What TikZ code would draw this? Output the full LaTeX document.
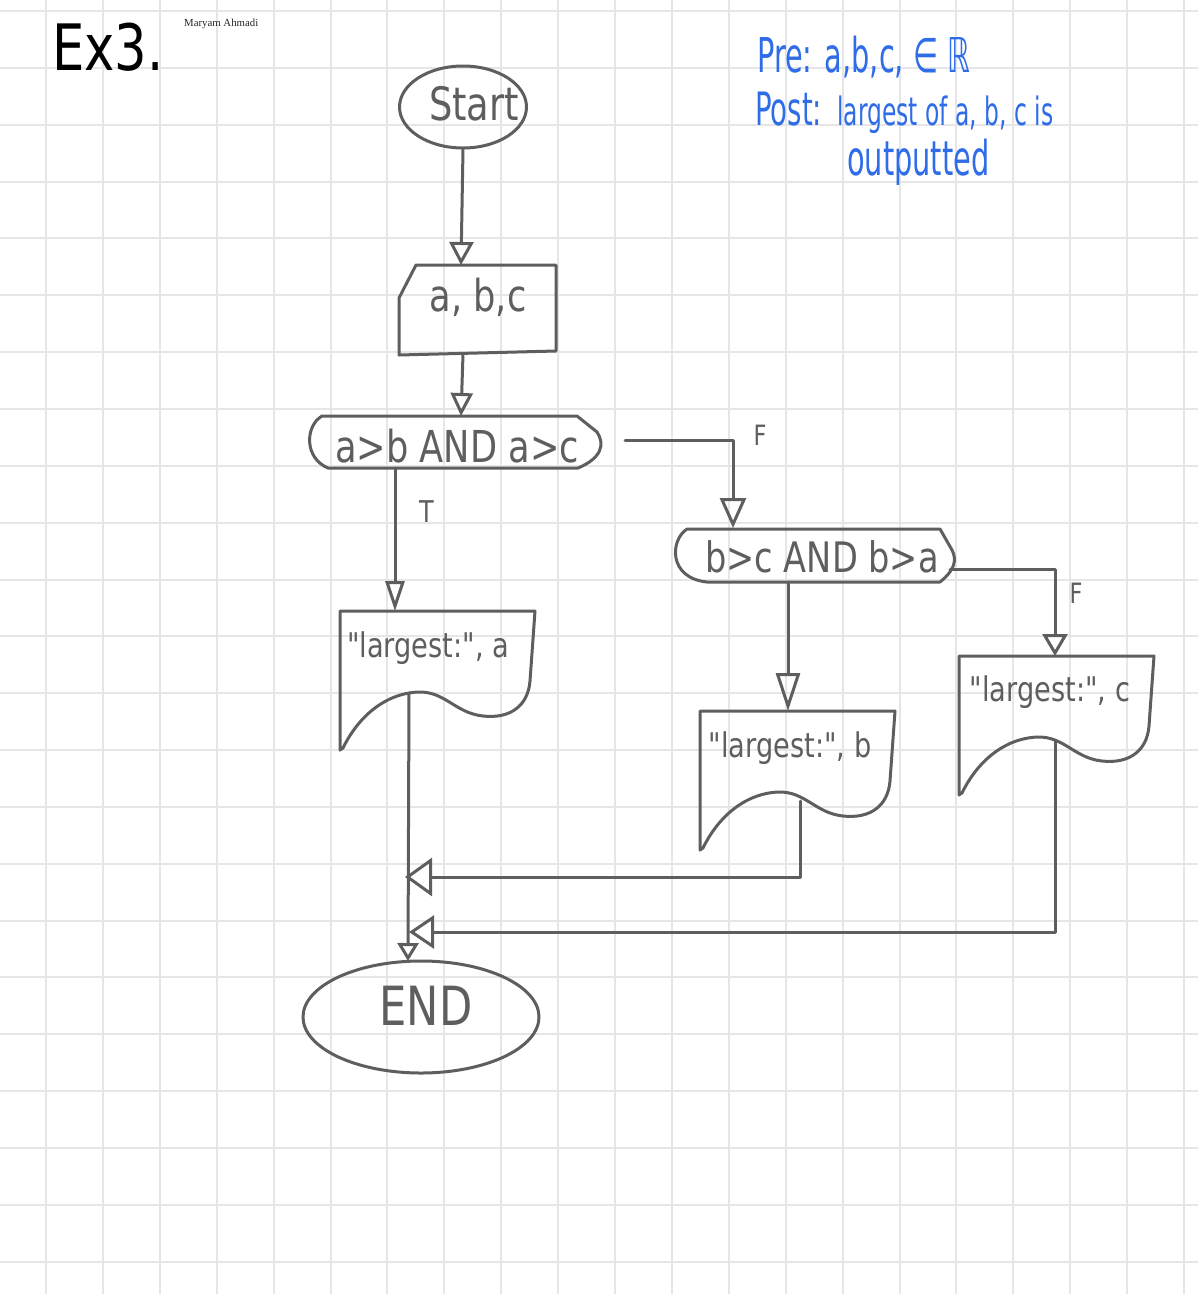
\documentclass[tikz,border=0pt]{standalone}
\usepackage{fontspec}
\newfontfamily\handfont[FakeStretch=0.8]{DejaVu Sans}
\newfontfamily\notefont[FakeStretch=0.6]{DejaVu Sans}
\newfontfamily\signfont{Liberation Serif}
\usetikzlibrary{arrows.meta,shapes.geometric}
\definecolor{ink}{HTML}{5E5E5E}
\definecolor{gridgray}{HTML}{E6E6E6}
\definecolor{penblue}{HTML}{2F6CE8}

\tikzset{
  gridline/.style={gridgray, line width=2pt},
  outline/.style={ink, line width=3pt, line join=round, line cap=round},
  headsz/.style 2 args={-{Triangle[open, length=#1, width=#2]}},
  flow/.style={outline, headsz={24pt}{24pt}},
  txt/.style={text=ink, inner sep=0pt, font=\handfont\fontsize{44}{48}\selectfont},
  outtxt/.style={txt, font=\handfont\fontsize{34}{38}\selectfont},
  note/.style={text=penblue, inner sep=0pt, anchor=base west},
}

% document (output) symbol with a wavy lower edge, top-left corner at #1
\newcommand\docsymbol[1]{%
  \draw[outline, shift={#1}] (0,0) -- (195,0) -- (190,70)
    .. controls (188,95) and (170,108) .. (143,105)
    .. controls (115,102) and (105,80) .. (78,81)
    .. controls (40,83) and (15,112) .. (3,137)
    -- (0,139) -- cycle;}

\begin{document}
\begin{tikzpicture}[x=1pt, y=-1pt]
  \useasboundingbox (0,0) rectangle (1198,1294);
  \fill[white] (0,0) rectangle (1198,1294);

  % squared paper
  \foreach \i in {0,...,20}
    \draw[gridline] ({46+56.9*\i},0) -- ({46+56.9*\i},1294);
  \foreach \j in {0,...,22}
    \draw[gridline] (0,{11+56.85*\j}) -- (1198,{11+56.85*\j});

  % heading and author
  \node[anchor=base west, inner sep=0pt, font=\handfont\fontsize{64}{70}\selectfont] (title) at (52,70) {Ex3.};
  \node[anchor=base west, inner sep=0pt, text=black!85, font=\signfont\fontsize{10.8}{12}\selectfont] (author) at (184,26) {Maryam Ahmadi};

  % pre- and postconditions
  \node[note, font=\notefont\fontsize{48}{52}\selectfont] (pre) at (757,72) {Pre: a,b,c, ∈ ℝ};
  \node[note, font=\notefont\fontsize{46}{50}\selectfont] (post) at (755,125) {Post:};
  \node[note, font=\notefont\fontsize{39}{44}\selectfont] (postrest) at (837,125) {largest of a, b, c is};
  \node[note, font=\notefont\fontsize{48}{52}\selectfont] (postend) at (847,175) {outputted};

  % start
  \node[ellipse, draw, outline, minimum width=127pt, minimum height=82pt, inner sep=0pt] (start) at (463,107) {};
  \node[txt, font=\handfont\fontsize{46}{50}\selectfont] (starttxt) at (474,104) {Start};

  % input a, b, c
  \draw[outline] (399,355) -- (399,298) -- (416,265) -- (556,265) -- (556,351) -- cycle;
  \node[txt] (inptxt) at (478,297) {a, b,c};
  \coordinate (inpTop) at (461,265);
  \coordinate (inpBot) at (463,354);

  % first decision
  \draw[outline] (322,416) -- (577,416) -- (597,432)
    .. controls (605,444) and (602,458) .. (578,468) -- (328,468)
    .. controls (304,458) and (305,426) .. (322,416) -- cycle;
  \node[txt] (dec1) at (457,446) {a>b AND a>c};
  \coordinate (d1Top) at (461,416);
  \coordinate (d1Bot) at (395,468);
  \coordinate (d1Right) at (625,440);

  % second decision
  \draw[outline] (687,529) -- (940,529) -- (952,550)
    .. controls (957,560) and (955,570) .. (940,582) -- (707,582)
    .. controls (668,578) and (670,540) .. (687,529) -- cycle;
  \node[txt, font=\handfont\fontsize{42}{46}\selectfont] (dec2) at (822,557) {b>c AND b>a};
  \coordinate (d2Top) at (733,528);
  \coordinate (d2Bot) at (788,582);
  \coordinate (d2Right) at (950,569);

  % outputs
  \docsymbol{(340,611)}
  \node[outtxt] (outa) at (428,648) {"largest:", a};
  \coordinate (oaTop) at (395,611);
  \coordinate (oaWave) at (409,693);

  \docsymbol{(700,711)}
  \node[outtxt] (outb) at (790,748) {"largest:", b};
  \coordinate (obTop) at (788,711);
  \coordinate (obWave) at (800,801);

  \docsymbol{(959,656)}
  \node[outtxt] (outc) at (1050,692) {"largest:", c};
  \coordinate (ocTop) at (1055,656);
  \coordinate (ocWave) at (1055,741);

  % end
  \node[ellipse, draw, outline, minimum width=236pt, minimum height=112pt, inner sep=0pt] (end) at (421,1017) {};
  \node[txt, font=\handfont\fontsize{54}{58}\selectfont] (endtxt) at (426,1006) {END};
  \coordinate (endTop) at (408,961);
  \coordinate (joinB) at (405,877);
  \coordinate (joinC) at (409,932);

  % connectors
  \draw[flow, headsz={23pt}{24pt}] (start.south) -- (inpTop);
  \draw[flow, headsz={23pt}{22pt}] (inpBot) -- (d1Top);
  \draw[flow, headsz={30pt}{19pt}] (d1Bot) -- (oaTop);
  \draw[flow, headsz={30pt}{26pt}] (d1Right) -| (d2Top);
  \draw[flow, headsz={38pt}{24pt}] (d2Bot) -- (obTop);
  \draw[flow, headsz={22pt}{25pt}] (d2Right) -| (ocTop);
  \draw[flow, headsz={18pt}{21pt}] (oaWave) -- (endTop);
  \draw[flow, headsz={27pt}{38pt}] (obWave) |- (joinB);
  \draw[flow, headsz={25pt}{33pt}] (ocWave) |- (joinC);

  % branch labels
  \node[txt, font=\handfont\fontsize{30}{34}\selectfont] (tlabel) at (427,512) {T};
  \node[txt, font=\handfont\fontsize{28}{32}\selectfont] (flabel1) at (760,435) {F};
  \node[txt, font=\handfont\fontsize{28}{32}\selectfont] (flabel2) at (1076,593) {F};
\end{tikzpicture}
\end{document}
